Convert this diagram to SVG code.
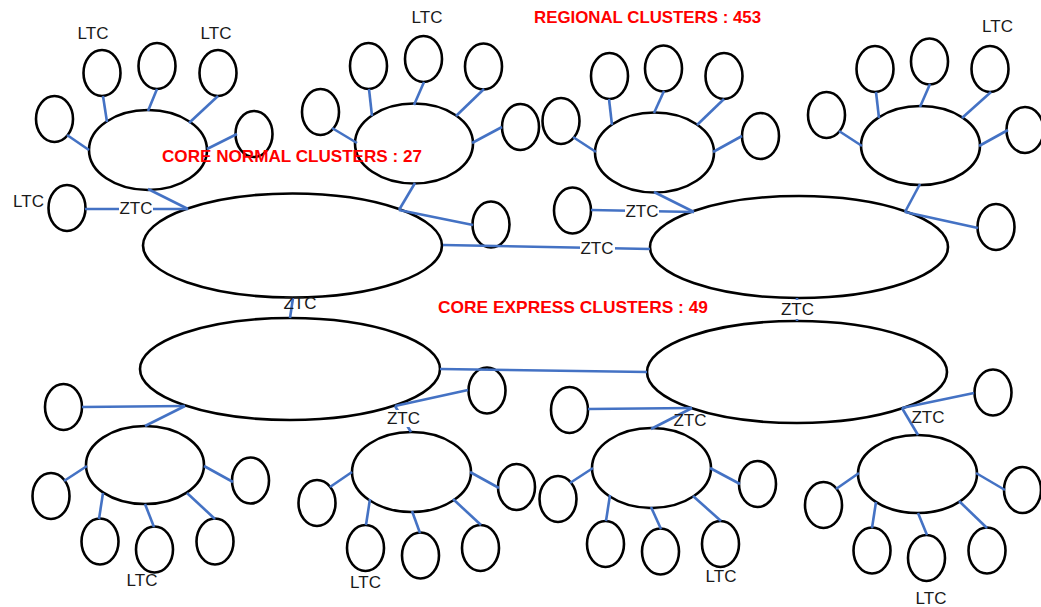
<svg xmlns="http://www.w3.org/2000/svg" width="1041" height="607" viewBox="0 0 1041 607">
<style>
.n{fill:#fff;stroke:#000;stroke-width:2.6}
.c line{stroke:#4472C4;stroke-width:2.6;stroke-linecap:butt}
.t{font-family:"Liberation Sans",Arial,sans-serif;font-size:17px;fill:#1a1a1a;text-anchor:middle}
.r{font-family:"Liberation Sans",Arial,sans-serif;font-size:16.5px;font-weight:bold;fill:#ff0000}
.bg{fill:#fff}
</style>
<rect width="1041" height="607" fill="#fff"/>
<!-- core ellipses -->
<g id="core-normal-1"><ellipse class="n" cx="292.5" cy="245.5" rx="149.5" ry="52"/></g>
<g id="core-normal-2"><ellipse class="n" cx="799" cy="247" rx="149" ry="51"/></g>
<g id="core-express-1"><ellipse class="n" cx="290" cy="369" rx="150" ry="51"/></g>
<g id="core-express-2"><ellipse class="n" cx="797" cy="372" rx="150" ry="51"/></g>
<!-- cluster 1 -->
<g id="hub-1"><ellipse class="n" cx="148" cy="150" rx="59" ry="40"/></g>
<g id="leaf-1a"><ellipse class="n" cx="54.5" cy="119" rx="18.5" ry="23"/></g>
<g id="leaf-1b"><ellipse class="n" cx="102" cy="73" rx="18.5" ry="23"/><text class="t" x="93" y="39">LTC</text></g>
<g id="leaf-1c"><ellipse class="n" cx="157" cy="66" rx="18.5" ry="23"/></g>
<g id="leaf-1d"><ellipse class="n" cx="218" cy="73" rx="18.5" ry="23"/><text class="t" x="216" y="39">LTC</text></g>
<g id="leaf-1e"><ellipse class="n" cx="254" cy="134" rx="18.5" ry="23"/></g>
<g id="leaf-1f"><ellipse class="n" cx="67" cy="208" rx="18.5" ry="23"/><text class="t" x="28.5" y="207">LTC</text></g>
<!-- cluster 2 -->
<g id="hub-2"><ellipse class="n" cx="414" cy="143.5" rx="59" ry="40"/></g>
<g id="leaf-2a"><ellipse class="n" cx="320.5" cy="112" rx="18.5" ry="23"/></g>
<g id="leaf-2b"><ellipse class="n" cx="368.5" cy="66" rx="18.5" ry="23"/></g>
<g id="leaf-2c"><ellipse class="n" cx="423.5" cy="59" rx="18.5" ry="23"/><text class="t" x="427" y="23">LTC</text></g>
<g id="leaf-2d"><ellipse class="n" cx="483.5" cy="66.5" rx="18.5" ry="23"/></g>
<g id="leaf-2e"><ellipse class="n" cx="520.5" cy="127" rx="18.5" ry="23"/></g>
<g id="leaf-2f"><ellipse class="n" cx="491" cy="224.5" rx="18.5" ry="23"/></g>
<!-- cluster 3 -->
<g id="hub-3"><ellipse class="n" cx="654.5" cy="152.5" rx="59.5" ry="40"/></g>
<g id="leaf-3a"><ellipse class="n" cx="561" cy="121" rx="18.5" ry="23"/></g>
<g id="leaf-3b"><ellipse class="n" cx="609.5" cy="76" rx="18.5" ry="23"/></g>
<g id="leaf-3c"><ellipse class="n" cx="663.5" cy="68.5" rx="18.5" ry="23"/></g>
<g id="leaf-3d"><ellipse class="n" cx="724" cy="76" rx="18.5" ry="23"/></g>
<g id="leaf-3e"><ellipse class="n" cx="760.5" cy="136" rx="18.5" ry="23"/></g>
<g id="leaf-3f"><ellipse class="n" cx="572.5" cy="210.5" rx="18.5" ry="23"/></g>
<!-- cluster 4 -->
<g id="hub-4"><ellipse class="n" cx="920.5" cy="145.5" rx="59.5" ry="39.5"/></g>
<g id="leaf-4a"><ellipse class="n" cx="826.5" cy="115" rx="18.5" ry="23"/></g>
<g id="leaf-4b"><ellipse class="n" cx="875" cy="69" rx="18.5" ry="23"/></g>
<g id="leaf-4c"><ellipse class="n" cx="929.5" cy="61.5" rx="18.5" ry="23"/></g>
<g id="leaf-4d"><ellipse class="n" cx="990" cy="69" rx="18.5" ry="23"/><text class="t" x="997.5" y="32">LTC</text></g>
<g id="leaf-4e"><ellipse class="n" cx="1025" cy="130" rx="18.5" ry="23"/></g>
<g id="leaf-4f"><ellipse class="n" cx="996" cy="227" rx="18.5" ry="23"/></g>
<!-- cluster 5 -->
<g id="hub-5"><ellipse class="n" cx="145" cy="465" rx="59" ry="39"/></g>
<g id="leaf-5a"><ellipse class="n" cx="51" cy="496" rx="18.5" ry="23"/></g>
<g id="leaf-5b"><ellipse class="n" cx="100" cy="541.5" rx="18.5" ry="23"/></g>
<g id="leaf-5c"><ellipse class="n" cx="154.5" cy="549.5" rx="18.5" ry="23"/><text class="t" x="142" y="586">LTC</text></g>
<g id="leaf-5d"><ellipse class="n" cx="215" cy="541.5" rx="18.5" ry="23"/></g>
<g id="leaf-5e"><ellipse class="n" cx="250.5" cy="480.5" rx="18.5" ry="23"/></g>
<g id="leaf-5f"><ellipse class="n" cx="63.5" cy="407" rx="18.5" ry="23"/></g>
<!-- cluster 6 -->
<g id="hub-6"><ellipse class="n" cx="411.5" cy="472" rx="59.5" ry="40"/></g>
<g id="leaf-6a"><ellipse class="n" cx="317" cy="503" rx="18.5" ry="23"/></g>
<g id="leaf-6b"><ellipse class="n" cx="365.5" cy="548" rx="18.5" ry="23"/><text class="t" x="365.5" y="588">LTC</text></g>
<g id="leaf-6c"><ellipse class="n" cx="420.5" cy="555.5" rx="18.5" ry="23"/></g>
<g id="leaf-6d"><ellipse class="n" cx="480.5" cy="548" rx="18.5" ry="23"/></g>
<g id="leaf-6e"><ellipse class="n" cx="516.5" cy="487" rx="18.5" ry="23"/></g>
<g id="leaf-6f"><ellipse class="n" cx="487" cy="390.5" rx="18.5" ry="23"/></g>
<!-- cluster 7 -->
<g id="hub-7"><ellipse class="n" cx="651.5" cy="468" rx="59.5" ry="40"/></g>
<g id="leaf-7a"><ellipse class="n" cx="558" cy="499" rx="18.5" ry="23"/></g>
<g id="leaf-7b"><ellipse class="n" cx="605.5" cy="544" rx="18.5" ry="23"/></g>
<g id="leaf-7c"><ellipse class="n" cx="660.5" cy="551.5" rx="18.5" ry="23"/></g>
<g id="leaf-7d"><ellipse class="n" cx="720.5" cy="544" rx="18.5" ry="23"/><text class="t" x="721" y="582">LTC</text></g>
<g id="leaf-7e"><ellipse class="n" cx="757.5" cy="484" rx="18.5" ry="23"/></g>
<g id="leaf-7f"><ellipse class="n" cx="569.5" cy="410" rx="18.5" ry="23"/></g>
<!-- cluster 8 -->
<g id="hub-8"><ellipse class="n" cx="917.5" cy="474" rx="59.5" ry="39"/></g>
<g id="leaf-8a"><ellipse class="n" cx="823.5" cy="505" rx="18.5" ry="23"/></g>
<g id="leaf-8b"><ellipse class="n" cx="872" cy="550.5" rx="18.5" ry="23"/></g>
<g id="leaf-8c"><ellipse class="n" cx="926.5" cy="558" rx="18.5" ry="23"/><text class="t" x="931" y="604">LTC</text></g>
<g id="leaf-8d"><ellipse class="n" cx="987" cy="550.5" rx="18.5" ry="23"/></g>
<g id="leaf-8e"><ellipse class="n" cx="1022.5" cy="490" rx="18.5" ry="23"/></g>
<g id="leaf-8f"><ellipse class="n" cx="993" cy="392.5" rx="18.5" ry="23"/></g>
<!-- connectors -->
<g id="connectors" class="c">
<line x1="443" y1="245" x2="650" y2="249"/>
<line x1="293" y1="298" x2="290" y2="318"/>
<line x1="797" y1="298" x2="797" y2="321"/>
<line x1="440" y1="369" x2="647" y2="372"/>
<line x1="67" y1="135" x2="89" y2="150"/>
<line x1="103" y1="96" x2="107" y2="122"/>
<line x1="157" y1="89" x2="148" y2="111"/>
<line x1="218" y1="96" x2="189" y2="123"/>
<line x1="237" y1="134" x2="207" y2="149"/>
<line x1="148" y1="189" x2="188" y2="209"/>
<line x1="85" y1="209" x2="188" y2="209"/>
<line x1="332" y1="128" x2="357" y2="143"/>
<line x1="369" y1="89" x2="372" y2="116"/>
<line x1="424" y1="82" x2="414" y2="105"/>
<line x1="484" y1="89" x2="456" y2="116"/>
<line x1="502" y1="127" x2="472" y2="143"/>
<line x1="415" y1="183" x2="399" y2="210"/>
<line x1="399" y1="210" x2="473" y2="225"/>
<line x1="573" y1="137" x2="596" y2="152"/>
<line x1="609" y1="99" x2="612" y2="125"/>
<line x1="664" y1="91" x2="654" y2="113"/>
<line x1="724" y1="99" x2="697" y2="125"/>
<line x1="742" y1="136" x2="713" y2="152"/>
<line x1="654" y1="192" x2="694" y2="212"/>
<line x1="591" y1="210" x2="694" y2="212"/>
<line x1="839" y1="131" x2="862" y2="146"/>
<line x1="876" y1="92" x2="879" y2="118"/>
<line x1="930" y1="84" x2="920" y2="107"/>
<line x1="991" y1="92" x2="962" y2="118"/>
<line x1="1008" y1="130" x2="979" y2="146"/>
<line x1="920" y1="184" x2="905" y2="212"/>
<line x1="905" y1="212" x2="978" y2="228"/>
<line x1="64" y1="481" x2="87" y2="466"/>
<line x1="99" y1="519" x2="103" y2="493"/>
<line x1="154" y1="527" x2="145" y2="504"/>
<line x1="215" y1="519" x2="187" y2="493"/>
<line x1="233" y1="482" x2="204" y2="466"/>
<line x1="82" y1="407" x2="185" y2="406"/>
<line x1="145" y1="426" x2="185" y2="406"/>
<line x1="330" y1="487" x2="352" y2="472"/>
<line x1="366" y1="525" x2="370" y2="499"/>
<line x1="420" y1="533" x2="412" y2="511"/>
<line x1="481" y1="525" x2="453" y2="499"/>
<line x1="499" y1="488" x2="470" y2="472"/>
<line x1="468" y1="390" x2="395" y2="406"/>
<line x1="395" y1="406" x2="411" y2="432"/>
<line x1="570" y1="483" x2="593" y2="468"/>
<line x1="606" y1="521" x2="610" y2="495"/>
<line x1="661" y1="529" x2="651" y2="507"/>
<line x1="721" y1="521" x2="693" y2="496"/>
<line x1="740" y1="484" x2="710" y2="468"/>
<line x1="588" y1="409" x2="692" y2="408"/>
<line x1="651" y1="429" x2="692" y2="408"/>
<line x1="836" y1="489" x2="859" y2="473"/>
<line x1="872" y1="528" x2="876" y2="502"/>
<line x1="927" y1="535" x2="918" y2="513"/>
<line x1="987" y1="528" x2="959" y2="501"/>
<line x1="1005" y1="490" x2="976" y2="473"/>
<line x1="974" y1="393" x2="902" y2="408"/>
<line x1="902" y1="408" x2="918" y2="435"/>
<!-- connector labels -->
<rect class="bg" x="119" y="200" width="34" height="16"/>
<text class="t" x="136" y="214">ZTC</text>
<rect class="bg" x="625" y="203" width="34" height="16"/>
<text class="t" x="642" y="217">ZTC</text>
<rect class="bg" x="580" y="240" width="35" height="16"/>
<text class="t" x="597" y="254">ZTC</text>
<text class="t" x="300" y="309">ZTC</text>
<rect class="bg" x="780" y="300" width="35" height="19"/>
<text class="t" x="797.5" y="315">ZTC</text>
<rect class="bg" x="386" y="410" width="35" height="17"/>
<text class="t" x="403.5" y="424">ZTC</text>
<text class="t" x="690" y="426">ZTC</text>
<text class="t" x="928" y="423">ZTC</text>
</g>
<!-- titles -->
<text class="r" x="534" y="23" textLength="227" lengthAdjust="spacingAndGlyphs">REGIONAL CLUSTERS : 453</text>
<text class="r" x="162" y="162" textLength="260" lengthAdjust="spacingAndGlyphs">CORE NORMAL CLUSTERS  : 27</text>
<text class="r" x="438" y="313" textLength="270" lengthAdjust="spacingAndGlyphs">CORE EXPRESS CLUSTERS  : 49</text>
</svg>
